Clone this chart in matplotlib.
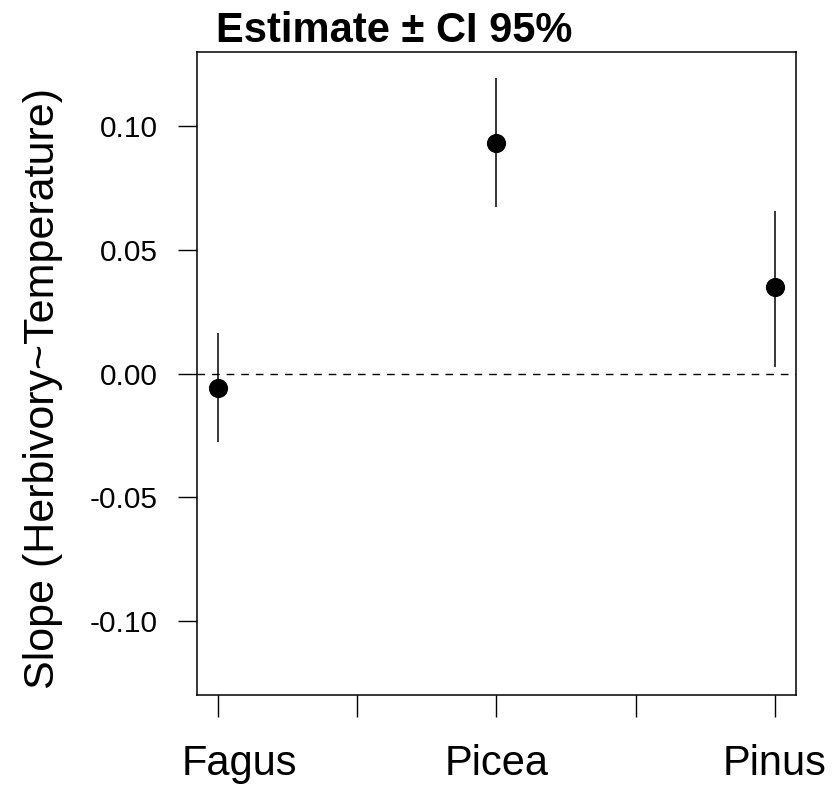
import matplotlib
matplotlib.use("Agg")
import matplotlib.pyplot as plt
from matplotlib.transforms import ScaledTranslation

# values
species = ["Fagus", "Picea", "Pinus"]
estimate = [-0.0057, 0.0931, 0.0348]
ci_low = [-0.0275, 0.0672, 0.0028]
ci_high = [0.0162, 0.1194, 0.0656]
y_ticks = [-0.10, -0.05, 0.00, 0.05, 0.10]

plt.rcParams['font.family'] = ['Liberation Sans', 'DejaVu Sans']

fig = plt.figure(figsize=(8.36, 7.89), dpi=100)
ax = fig.add_axes([0.2356, 0.1191, 0.7165, 0.8150])

xpos = list(range(1, len(species) + 1))

ax.axhline(0, color="black", lw=1.0, ls=(0, (5.5, 5)), zorder=1)
ax.vlines(xpos, ci_low, ci_high, color="black", lw=1.1, zorder=2)
ax.plot(xpos, estimate, "o", color="black", ms=12.8, zorder=3)

ax.set_xlim(0.925, 3.075)
ax.set_ylim(-0.13, 0.13)

# ticks at each species plus halfway marks without labels
xt = [1, 1.5, 2, 2.5, 3]
ax.set_xticks(xt)
ax.set_xticklabels(["Fagus", "", "Picea", "", "Pinus"], fontsize=30)
ax.set_yticks(y_ticks)
ax.set_yticklabels(["{:.2f}".format(v) for v in y_ticks], fontsize=21.5)
ax.tick_params(axis="x", length=15.5, width=1.0, pad=20)
ax.tick_params(axis="y", length=14, width=1.0, pad=14)

# Fagus label sits a bit right of its tick in the original
lab = ax.get_xticklabels()[0]
lab.set_transform(lab.get_transform() + ScaledTranslation(0.22, 0, fig.dpi_scale_trans))

for s in ax.spines.values():
    s.set_linewidth(1.1)

fig.text(0.471, 0.9468, "Estimate \u00b1 CI 95%", fontsize=30, fontweight="bold",
         ha="center", va="baseline")
fig.text(0.051, 0.507, "Slope (Herbivory~Temperature)", fontsize=31,
         rotation=90, ha="center", va="center")

fig.savefig("out.png", dpi=100)
